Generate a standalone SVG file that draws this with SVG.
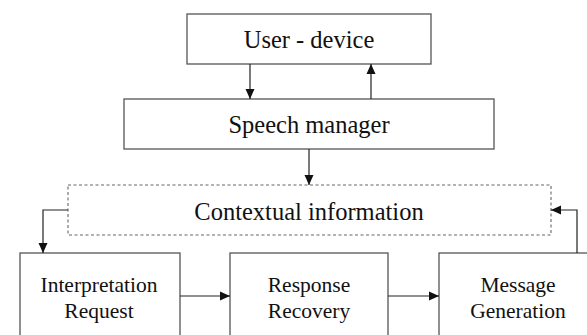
<svg xmlns="http://www.w3.org/2000/svg" width="587" height="335" viewBox="0 0 587 335">
<defs>
<style>
.box{fill:#fff;stroke:#555;stroke-width:1.3}
.dash{fill:#fff;stroke:#666;stroke-width:1.1;stroke-dasharray:3,2.5}
text{font-family:'Liberation Serif','Times New Roman','DejaVu Serif',serif;fill:#111;text-anchor:middle}
.big{font-size:24.5px}
.sm{font-size:21.5px}
.c{fill:none;stroke:#222;stroke-width:1.2}
</style>
<marker id="ah" viewBox="0 0 10 10" refX="10" refY="5" markerWidth="10" markerHeight="10" markerUnits="userSpaceOnUse" orient="auto">
<path d="M0,0.5 L10,5 L0,9.5 Z" fill="#111"/>
</marker>
</defs>
<rect width="587" height="335" fill="#fff"/>
<g id="user-device">
<rect class="box" x="187" y="14" width="244" height="50"/>
<text class="big" x="309" y="48" font-family="Liberation Serif, serif">User - device</text>
</g>
<g id="speech-manager">
<rect class="box" x="124" y="99" width="370" height="50"/>
<text class="big" x="309" y="133" font-family="Liberation Serif, serif">Speech manager</text>
</g>
<g id="contextual-information">
<rect class="dash" x="68" y="185" width="483" height="50"/>
<text class="big" x="309" y="220" font-family="Liberation Serif, serif">Contextual information</text>
</g>
<g id="interpretation-request">
<rect class="box" x="20" y="253" width="160" height="90"/>
<text class="sm" x="99" y="292" font-family="Liberation Serif, serif">Interpretation</text>
<text class="sm" x="99" y="318" font-family="Liberation Serif, serif">Request</text>
</g>
<g id="response-recovery">
<rect class="box" x="230" y="253" width="158" height="90"/>
<text class="sm" x="309" y="292" font-family="Liberation Serif, serif">Response</text>
<text class="sm" x="309" y="318" font-family="Liberation Serif, serif">Recovery</text>
</g>
<g id="message-generation">
<rect class="box" x="439" y="253" width="158" height="90"/>
<text class="sm" x="518" y="292" font-family="Liberation Serif, serif">Message</text>
<text class="sm" x="518" y="318" font-family="Liberation Serif, serif">Generation</text>
</g>
<g id="connectors">
<line class="c" x1="250" y1="64" x2="250" y2="99" marker-end="url(#ah)"/>
<line class="c" x1="371" y1="99" x2="371" y2="64" marker-end="url(#ah)"/>
<line class="c" x1="309" y1="149" x2="309" y2="185" marker-end="url(#ah)"/>
<polyline class="c" points="68,210 43,210 43,253" marker-end="url(#ah)"/>
<line class="c" x1="180" y1="296" x2="230" y2="296" marker-end="url(#ah)"/>
<line class="c" x1="388" y1="296" x2="439" y2="296" marker-end="url(#ah)"/>
<polyline class="c" points="577,253 577,210 551,210" marker-end="url(#ah)"/>
</g>
</svg>
